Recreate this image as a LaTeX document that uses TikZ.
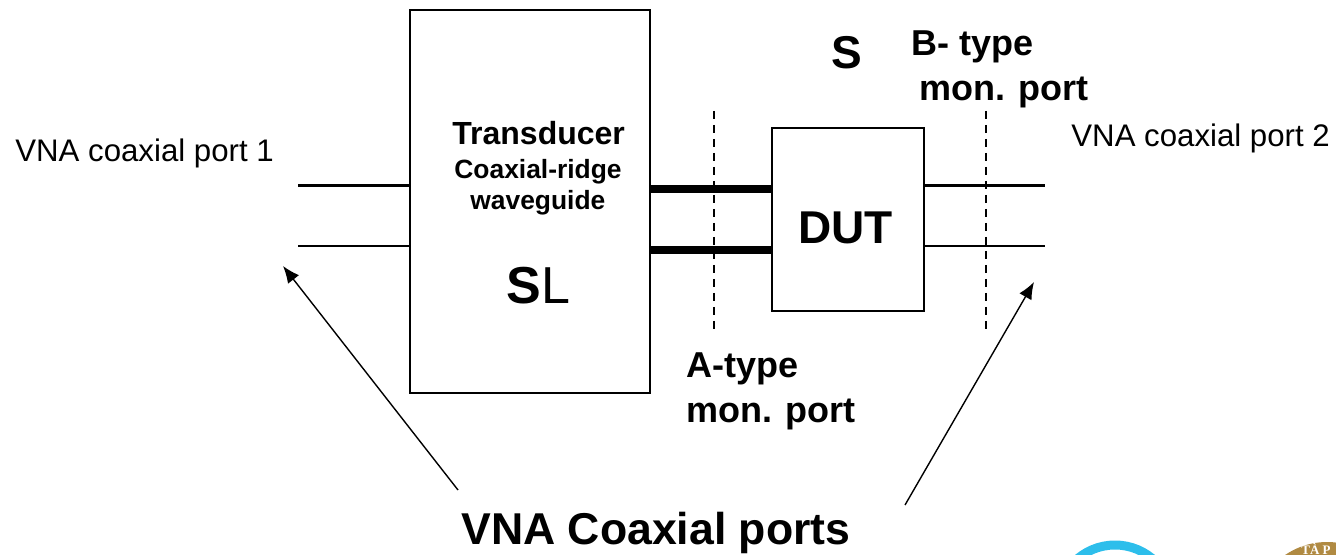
\documentclass[tikz,border=0pt]{standalone}
\usepackage{fontspec}
\usetikzlibrary{arrows.meta}
\setmainfont{Liberation Sans}
\newfontfamily\sealfont{Liberation Serif}
\begin{document}
\begin{tikzpicture}[x=0.5pt,y=-0.5pt,
  boxnode/.style={draw=black,line width=1.1pt,fill=white,inner sep=0pt,minimum width=0pt},
  label/.style={inner sep=0pt,anchor=base west,font=\bfseries},
  plain/.style={inner sep=0pt,anchor=base west},
  thinwire/.style={line width=1pt},
  medwire/.style={line width=1.4pt},
  thickwire/.style={line width=4pt},
  monline/.style={line width=0.7pt,dash pattern=on 4pt off 3pt},
  pointer/.style={line width=0.7pt,-{Latex[length=8.5pt,width=7pt]}}]
\useasboundingbox (0,0) rectangle (1336,555);
% corner fragments
\begin{scope}
\clip (0,0) rectangle (1336,555);
\draw[line width=4.5pt,color={rgb,255:red,45;green,190;blue,235}] (1115,603) circle [radius=58];
\fill[color={rgb,255:red,176;green,138;blue,66}] (1327,616) circle [radius=74];
\node[inner sep=0pt,anchor=base,text=white,font=\sealfont\bfseries\fontsize{6.5pt}{7pt}\selectfont] (seal) at (1316,554) {TÀ P};
\end{scope}
% boxes
\node[boxnode,minimum width=120pt,minimum height=191.5pt] (tr) at (530,201.5) {};
\node[boxnode,minimum width=76pt,minimum height=91.5pt] (dut) at (848,219.5) {};
% wire ends
\coordinate (la) at (298,185.5);
\coordinate (lb) at (298,246.5);
\coordinate (ra) at (1045,185.5);
\coordinate (rb) at (1045,246.5);
\coordinate (ma1) at (714,111);
\coordinate (ma2) at (714,330);
\coordinate (mb1) at (986,111);
\coordinate (mb2) at (986,330);
\coordinate (ps1) at (458,490);
\coordinate (pe1) at (283,266);
\coordinate (ps2) at (905,505);
\coordinate (pe2) at (1034,282);
% wires
\draw[medwire] (la) -- (la -| tr.west);
\draw[thinwire] (lb) -- (lb -| tr.west);
\draw[thickwire] (tr.east |- 0,189) -- (dut.west |- 0,189);
\draw[thickwire] (tr.east |- 0,250) -- (dut.west |- 0,250);
\draw[medwire] (ra -| dut.east) -- (ra);
\draw[thinwire] (rb -| dut.east) -- (rb);
\draw[monline] (ma1) -- (ma2);
\draw[monline] (mb1) -- (mb2);
\draw[pointer] (ps1) -- (pe1);
\draw[pointer] (ps2) -- (pe2);
% text
\node[plain,font=\fontsize{15.6pt}{18pt}\selectfont] (t1) at (15,162) {VNA coaxial port 1};
\node[plain,font=\fontsize{15.6pt}{18pt}\selectfont] (t2) at (1071,147) {VNA coaxial port 2};
\node[label,font=\bfseries\fontsize{16pt}{18pt}\selectfont] (t3) at (452,145) {Transducer};
\node[label,font=\bfseries\fontsize{13.2pt}{15pt}\selectfont] (t4) at (454,179) {Coaxial-ridge};
\node[label,font=\bfseries\fontsize{13.2pt}{15pt}\selectfont] (t5) at (470,210) {waveguide};
\node[plain,font=\fontsize{26pt}{30pt}\selectfont] (t6) at (506,304) {\textbf{S}L};
\node[label,font=\bfseries\fontsize{23pt}{26pt}\selectfont] (t7) at (798,244) {DUT};
\node[label,font=\bfseries\fontsize{23pt}{26pt}\selectfont] (t8) at (831,69) {S};
\node[label,font=\bfseries\fontsize{18pt}{20pt}\selectfont] (t9) at (911,56) {B- type};
\node[label,font=\bfseries\fontsize{18pt}{20pt}\selectfont] (t10) at (919,101) {mon. port};
\node[label,font=\bfseries\fontsize{18pt}{20pt}\selectfont] (t11) at (686,377) {A-type};
\node[label,font=\bfseries\fontsize{18pt}{20pt}\selectfont] (t12) at (686,422) {mon. port};
\node[label,font=\bfseries\fontsize{22.3pt}{26pt}\selectfont] (t13) at (461,544) {VNA Coaxial ports};
\end{tikzpicture}
\end{document}
